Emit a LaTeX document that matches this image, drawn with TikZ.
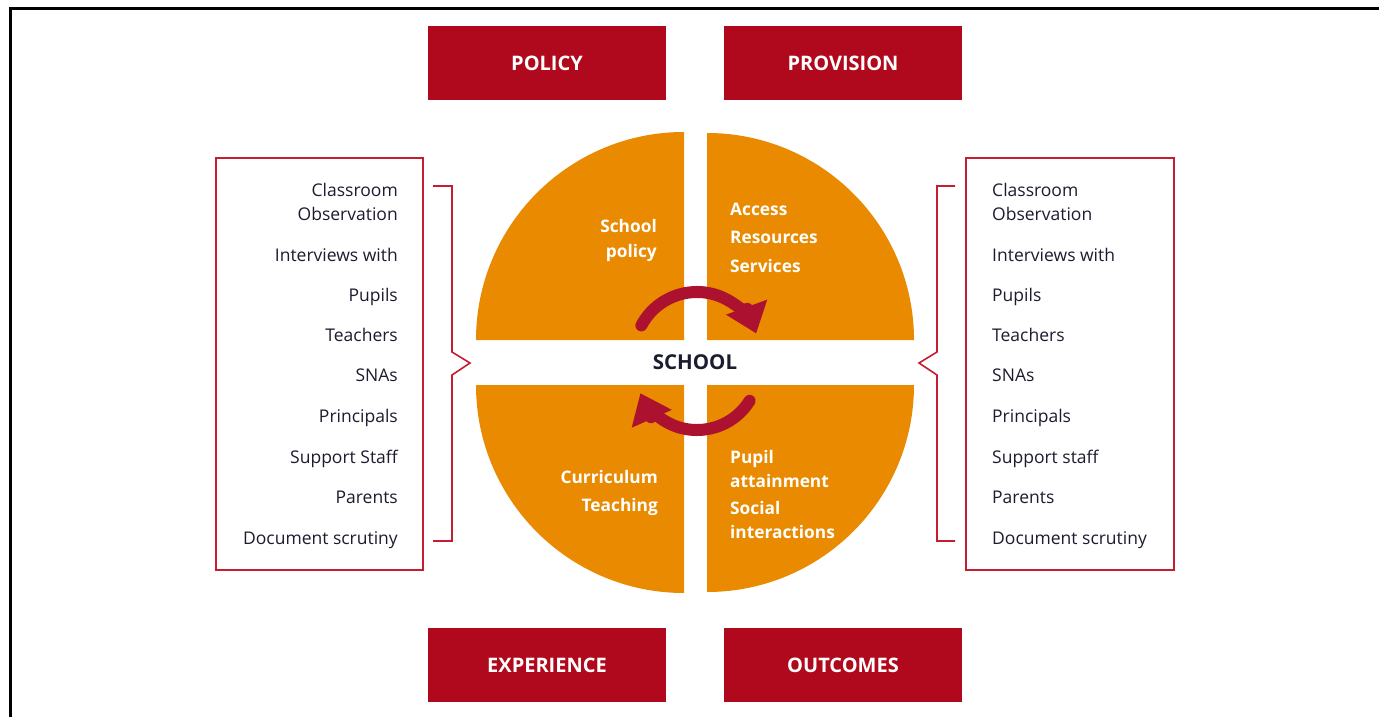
\documentclass[tikz,border=0pt]{standalone}
\usepackage{fontspec}
\setmainfont{Open Sans}
\usetikzlibrary{arrows.meta}
\definecolor{hdr}{RGB}{176,8,28}
\definecolor{org}{RGB}{233,138,0}
\definecolor{brd}{RGB}{196,30,48}
\definecolor{arw}{RGB}{172,18,48}
\definecolor{ink}{RGB}{28,28,48}
\begin{document}
\begin{tikzpicture}[x=1pt,y=-1pt,
  hdrbox/.style={fill=hdr, draw=none, minimum width=238pt, minimum height=74pt, inner sep=0pt, text=white, font=\bfseries\fontsize{20}{24}\selectfont},
  listbox/.style={draw=brd, line width=1.6pt, fill=none, inner sep=0pt, minimum height=412pt},
  itemL/.style={anchor=base east, inner sep=0pt, text=ink, font=\fontsize{17.5}{21}\selectfont},
  itemR/.style={anchor=base west, inner sep=0pt, text=ink, font=\fontsize{17.5}{21}\selectfont},
  qtL/.style={anchor=base east, inner sep=0pt, text=white, font=\bfseries\fontsize{17.3}{20}\selectfont},
  qtR/.style={anchor=base west, inner sep=0pt, text=white, font=\bfseries\fontsize{17.3}{20}\selectfont},
  bracket/.style={draw=brd, line width=1.6pt},
  cyc/.style={draw=arw, line width=12pt, line cap=round, -{Triangle[width=42pt,length=28pt]}}
]
\useasboundingbox (0,0) rectangle (1379,717);
\fill[white] (0,0) rectangle (1379,717);
\draw[line width=3pt] (10,717) -- (10,9) -- (1379,9);

% header boxes
\node[hdrbox] (policy) at (547,63) {POLICY};
\node[hdrbox] (provision) at (843,63) {PROVISION};
\node[hdrbox] (experience) at (547,665) {EXPERIENCE};
\node[hdrbox] (outcomes) at (843,665) {OUTCOMES};

% quadrants
\fill[org] (476,340) arc[start angle=180,end angle=270,radius=208] -- (684,340) -- cycle;
\fill[org] (707,133) arc[start angle=270,end angle=360,radius=207] -- (707,340) -- cycle;
\fill[org] (684,593) arc[start angle=90,end angle=180,radius=208] -- (684,385) -- cycle;
\fill[org] (914,385) arc[start angle=0,end angle=90,radius=207] -- (707,385) -- cycle;

% cycle arrows
\draw[cyc] (697,355) ++(208:63) arc[start angle=208,end angle=340,radius=63];
\draw[cyc] (697,368) ++(32:62) arc[start angle=32,end angle=156,radius=62];

\node[inner sep=0pt, text=ink, font=\bfseries\fontsize{20.5}{24}\selectfont] (school) at (695,362) {SCHOOL};

% quadrant texts
\node[qtL] (q1a) at (657,232) {School};
\node[qtL] (q1b) at (657,257) {policy};
\node[qtR] (q2a) at (730,215) {Access};
\node[qtR] (q2b) at (730,243) {Resources};
\node[qtR] (q2c) at (730,272) {Services};
\node[qtL] (q3a) at (658,483) {Curriculum};
\node[qtL] (q3b) at (658,511) {Teaching};
\node[qtR] (q4a) at (730,463) {Pupil};
\node[qtR] (q4b) at (730,487) {attainment};
\node[qtR] (q4c) at (730,514) {Social};
\node[qtR] (q4d) at (730,538) {interactions};

% list boxes
\node[listbox, minimum width=207pt] (lbox) at (319.5,364) {};
\node[listbox, minimum width=208pt] (rbox) at (1070,364) {};

% brackets
\draw[bracket] (433,186) -- (452,186) -- (452,352) -- (470,363) -- (452,375) -- (452,541) -- (433,541);
\draw[bracket] (955,186) -- (937,186) -- (937,352) -- (919,363) -- (937,375) -- (937,541) -- (955,541);

% left list
\node[itemL] (l1) at (398,196) {Classroom};
\node[itemL] (l1b) at (398,220) {Observation};
\node[itemL] (l2) at (398,261) {Interviews with};
\node[itemL] (l3) at (398,301) {Pupils};
\node[itemL] (l4) at (398,341) {Teachers};
\node[itemL] (l5) at (398,381) {SNAs};
\node[itemL] (l6) at (398,422) {Principals};
\node[itemL] (l7) at (398,463) {Support Staff};
\node[itemL] (l8) at (398,503) {Parents};
\node[itemL] (l9) at (398,544) {Document scrutiny};

% right list
\node[itemR] (r1) at (992,196) {Classroom};
\node[itemR] (r1b) at (992,220) {Observation};
\node[itemR] (r2) at (992,261) {Interviews with};
\node[itemR] (r3) at (992,301) {Pupils};
\node[itemR] (r4) at (992,341) {Teachers};
\node[itemR] (r5) at (992,381) {SNAs};
\node[itemR] (r6) at (992,422) {Principals};
\node[itemR] (r7) at (992,463) {Support staff};
\node[itemR] (r8) at (992,503) {Parents};
\node[itemR] (r9) at (992,544) {Document scrutiny};
\end{tikzpicture}
\end{document}
